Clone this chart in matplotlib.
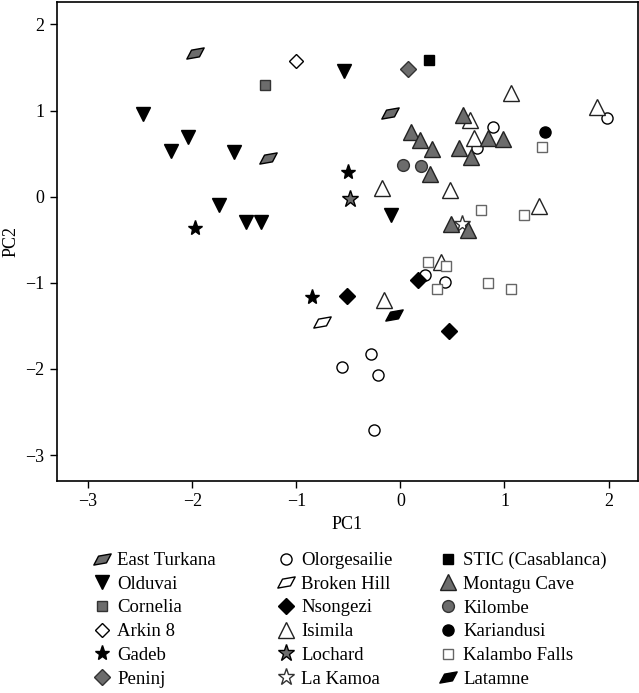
import numpy as np
import matplotlib
matplotlib.use('Agg')
import matplotlib.pyplot as plt
from matplotlib.path import Path
from matplotlib.lines import Line2D

plt.rcParams['font.family'] = ['Liberation Serif', 'DejaVu Serif']
plt.rcParams['font.size'] = 13.5
plt.rcParams['xtick.direction'] = 'out'
plt.rcParams['ytick.direction'] = 'out'

# PC scores per site
east_turkana_x = [-1.975, -1.272, -0.102]
east_turkana_y = [1.674, 0.452, 0.971]
olduvai_x = [-0.544, -2.477, -2.039, -2.205, -1.601, -1.742, -1.483, -1.342, -0.093]
olduvai_y = [1.465, 0.963, 0.692, 0.526, 0.514, -0.093, -0.294, -0.294, -0.209]
cornelia_x = [-1.297]
cornelia_y = [1.303]
arkin_x = [-1.004]
arkin_y = [1.578]
gadeb_x = [-0.505, -1.972, -0.847]
gadeb_y = [0.286, -0.367, -1.164]
peninj_x = [0.074]
peninj_y = [1.481]
olorgesailie_x = [1.981, 0.889, 0.735, 0.237, 0.428, -0.281, -0.559, -0.211, -0.256]
olorgesailie_y = [0.917, 0.804, 0.561, -0.905, -0.990, -1.821, -1.972, -2.073, -2.703]
broken_hill_x = [-0.757]
broken_hill_y = [-1.450]
nsongezi_x = [0.166, -0.511, 0.463]
nsongezi_y = [-0.963, -1.149, -1.562]
isimila_x = [1.064, 1.886, 0.668, 0.706, -0.179, 0.479, 1.336, 0.390, -0.160]
isimila_y = [1.203, 1.040, 0.893, 0.681, 0.101, 0.073, -0.112, -0.762, -1.195]
lochard_x = [-0.486]
lochard_y = [-0.023]
la_kamoa_x = [0.594]
la_kamoa_y = [-0.317]
stic_x = [0.275]
stic_y = [1.585]
montagu_x = [0.598, 0.105, 0.192, 0.844, 0.981, 0.304, 0.559, 0.678, 0.288, 0.489, 0.652]
montagu_y = [0.951, 0.746, 0.653, 0.681, 0.669, 0.557, 0.561, 0.456, 0.263, -0.317, -0.383]
kilombe_x = [0.022, 0.195]
kilombe_y = [0.363, 0.360]
kariandusi_x = [1.387]
kariandusi_y = [0.754]
kalambo_x = [1.358, 0.770, 1.192, 0.265, 0.441, 0.348, 0.841, 1.064]
kalambo_y = [0.572, -0.151, -0.209, -0.754, -0.808, -1.067, -0.998, -1.067]
latamne_x = [-0.064]
latamne_y = [-1.369]

GREY = '#6c6c6c'


def parallelogram():
    v = np.array([(-1.0, -0.42), (0.35, -0.42), (1.0, 0.42), (-0.35, 0.42), (-1.0, -0.42)])
    a = np.deg2rad(10)
    r = np.array([[np.cos(a), -np.sin(a)], [np.sin(a), np.cos(a)]])
    v = v @ r.T
    return Path(v, closed=True)


PARA = parallelogram()

# name, x, y, marker, size, face, edge
groups = [
    ('East Turkana', east_turkana_x, east_turkana_y, PARA, 12.5, GREY, 'k'),
    ('Olduvai', olduvai_x, olduvai_y, 'v', 10.5, 'k', 'k'),
    ('Cornelia', cornelia_x, cornelia_y, 's', 7.5, GREY, '#333333'),
    ('Arkin 8', arkin_x, arkin_y, 'D', 7, 'white', 'k'),
    ('Gadeb', gadeb_x, gadeb_y, '*', 11, 'k', 'k'),
    ('Peninj', peninj_x, peninj_y, 'D', 8, GREY, '#333333'),
    ('Olorgesailie', olorgesailie_x, olorgesailie_y, 'o', 8, 'white', 'k'),
    ('Broken Hill', broken_hill_x, broken_hill_y, PARA, 12.5, 'white', 'k'),
    ('Nsongezi', nsongezi_x, nsongezi_y, 'D', 7.8, 'k', 'k'),
    ('Isimila', isimila_x, isimila_y, '^', 11.5, 'white', '#222222'),
    ('Lochard', lochard_x, lochard_y, '*', 12.5, GREY, 'k'),
    ('La Kamoa', la_kamoa_x, la_kamoa_y, '*', 12.5, 'white', '#333333'),
    ('STIC (Casablanca)', stic_x, stic_y, 's', 7, 'k', 'k'),
    ('Montagu Cave', montagu_x, montagu_y, '^', 12, GREY, '#222222'),
    ('Kilombe', kilombe_x, kilombe_y, 'o', 8.5, GREY, '#333333'),
    ('Kariandusi', kariandusi_x, kariandusi_y, 'o', 8, 'k', 'k'),
    ('Kalambo Falls', kalambo_x, kalambo_y, 's', 7, 'white', '#666666'),
    ('Latamne', latamne_x, latamne_y, PARA, 12.5, 'k', 'k'),
]

fig = plt.figure(figsize=(6.39, 6.93), dpi=100)
ax = fig.add_axes([0.089, 0.306, 0.909, 0.691])

handles = []
for name, x, y, m, s, fc, ec in groups:
    ax.plot(x, y, linestyle='none', marker=m, markersize=s,
            markerfacecolor=fc, markeredgecolor=ec, markeredgewidth=1.0)
    handles.append(Line2D([], [], linestyle='none', marker=m, markersize=s,
                          markerfacecolor=fc, markeredgecolor=ec,
                          markeredgewidth=1.0, label=name))

ax.set_xlim(-3.3, 2.28)
ax.set_ylim(-3.3, 2.26)
ax.set_xticks([-3, -2, -1, 0, 1, 2])
ax.set_yticks([-3, -2, -1, 0, 1, 2])
ax.tick_params(length=5, width=1.0, pad=4, labelsize=13)
for sp in ax.spines.values():
    sp.set_linewidth(1.2)
ax.set_xlabel('PC1', labelpad=4, fontsize=13)
ax.set_ylabel('PC2', labelpad=4, fontsize=13)

# three legend columns placed under the plot
cols_x = [93 / 639, 277 / 639, 439 / 639]
for i, cx in enumerate(cols_x):
    leg = fig.legend(handles=handles[i * 6:(i + 1) * 6], loc='upper left',
                     bbox_to_anchor=(cx, 1 - 552 / 693), frameon=False,
                     borderpad=0, borderaxespad=0, handlelength=1.0,
                     handletextpad=0.3, labelspacing=0.35, fontsize=13.5)

plt.savefig('out.png')
